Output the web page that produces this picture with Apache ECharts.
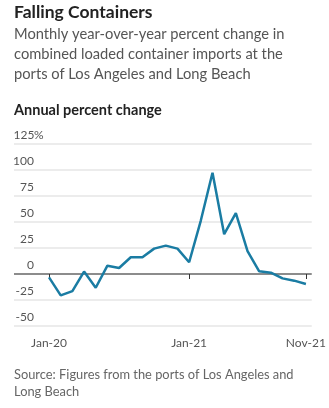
<!DOCTYPE html>
<html><head><meta charset="utf-8">
<script src="https://cdn.jsdelivr.net/npm/echarts@6/dist/echarts.min.js"></script>
<style>html,body{margin:0;padding:0;background:#fff}#c{width:329px;height:408px}</style>
</head><body><div id="c"></div>
<script>
const months = ['Jan-20','Feb-20','Mar-20','Apr-20','May-20','Jun-20','Jul-20','Aug-20','Sep-20','Oct-20','Nov-20','Dec-20',
  'Jan-21','Feb-21','Mar-21','Apr-21','May-21','Jun-21','Jul-21','Aug-21','Sep-21','Oct-21','Nov-21'];
const values = [-3.2,-20.6,-16.4,2.3,-13.2,8.0,5.8,16.1,16.1,24.4,27.3,24.4,11.3,51.4,97.4,38.3,58.5,21.9,2.6,1.3,-4.2,-6.4,-9.6];
const xTickIndex = [0,12,22];
const yTicks = [-50,-25,0,25,50,75,100,125];

const FONT = 'Lato';
const chart = echarts.init(document.getElementById('c'));
const gridColors = yTicks.map(v => v === 0 ? '#8c8c8c' : '#ececec');
chart.setOption({
  animation:false,
  title:[
    {text:'Falling Containers', left:14, top:3, padding:0, textStyle:{fontFamily:FONT,fontSize:17.5,fontWeight:'bold',color:'#222'}},
    {text:'Monthly year-over-year percent change in\ncombined loaded container imports at the\nports of Los Angeles and Long Beach', left:14, top:24, padding:0,
      textStyle:{fontFamily:FONT,fontSize:14.7,fontWeight:'normal',color:'#555',lineHeight:20}},
    {text:'Annual percent change', left:14, top:103, padding:0, textStyle:{fontFamily:FONT,fontSize:14.5,fontWeight:'bold',color:'#222'}},
    {text:'Source: Figures from the ports of Los Angeles and\nLong Beach', left:14, top:366, padding:0,
      textStyle:{fontFamily:FONT,fontSize:12.85,fontWeight:'normal',color:'#666',lineHeight:17}}
  ],
  grid:{left:14,right:16,top:144,bottom:82},
  xAxis:{type:'value',min:-3,max:22.5,
    axisLine:{show:false},splitLine:{show:false},
    axisTick:{show:true,customValues:xTickIndex,length:5,lineStyle:{color:'#333',width:1}},
    axisLabel:{customValues:xTickIndex,formatter:v=>months[v],margin:11,fontFamily:FONT,fontSize:12,color:'#555'}},
  yAxis:{type:'value',min:-50,max:125,interval:25,
    axisLine:{show:false},axisTick:{show:false},
    splitLine:{show:true,lineStyle:{color:gridColors,width:2}},
    axisLabel:{inside:true,margin:0,align:'left',verticalAlign:'bottom',padding:[0,0,3,0],
      fontFamily:FONT,fontSize:12,color:'#555',
      formatter:v=> v===125 ? '{n|125}{p|%}' : '{n|'+v+'}',
      rich:{n:{fontFamily:FONT,fontSize:12,color:'#555',width:20,align:'right'},p:{fontFamily:FONT,fontSize:12,color:'#555'}}}},
  series:[{type:'line',data:values.map((v,i)=>[i,v]),symbol:'none',
    lineStyle:{color:'#1a7ca3',width:2.5},z:3}]
});
</script></body></html>
